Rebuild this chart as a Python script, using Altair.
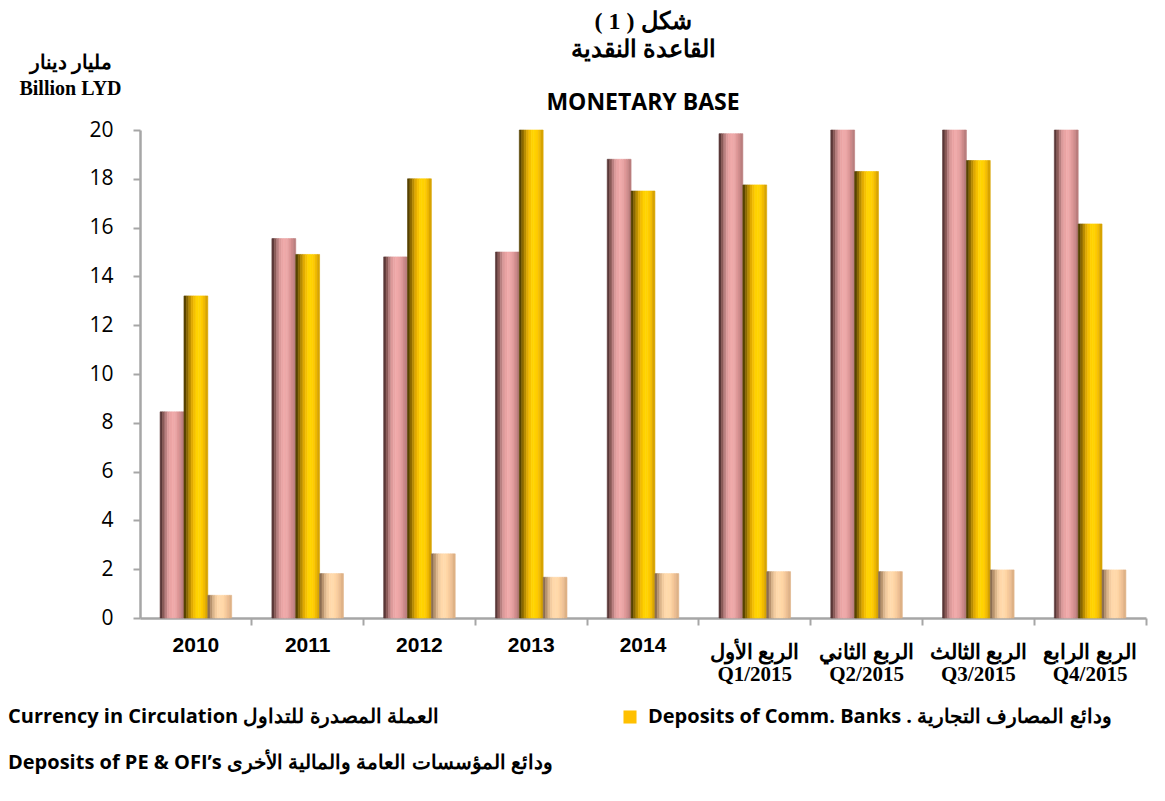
import altair as alt
import pandas as pd

categories = ["2010", "2011", "2012", "2013", "2014",
              "الربع الأول|Q1/2015", "الربع الثاني|Q2/2015",
              "الربع الثالث|Q3/2015", "الربع الرابع|Q4/2015"]
series = ["cur", "dep", "pe"]
series_labels = ["Currency in Circulation العملة المصدرة للتداول",
                 "Deposits of Comm. Banks . ودائع المصارف التجارية",
                 "Deposits of PE & OFI’s  ودائع المؤسسات العامة والمالية الأخرى"]
currency = [8.45, 15.55, 14.8, 15.0, 18.8, 19.85, 20.6, 21.6, 22.9]
deposits = [13.2, 14.9, 18.0, 20.4, 17.5, 17.75, 18.3, 18.75, 16.15]
pe_ofi = [0.93, 1.82, 2.63, 1.67, 1.82, 1.9, 1.9, 1.97, 1.97]
y_ticks = [0, 2, 4, 6, 8, 10, 12, 14, 16, 18, 20]

# shading strips across each bar (left dark -> light -> right slightly darker)
shades = {
    "cur": ["#5a3838", "#8a5a58", "#b98080", "#dc9a9a", "#eaa4a4", "#f0aaaa", "#eba6a6", "#e09a9a", "#d08c8c", "#bb7e7e"],
    "dep": ["#574300", "#8a6800", "#b88c00", "#e0aa00", "#f5c000", "#ffd200", "#ffd400", "#ffcc00", "#f2bc00", "#d8a400"],
    "pe":  ["#8c6e52", "#b8946e", "#dcb68c", "#f4cca0", "#ffd8aa", "#ffdaac", "#ffd6a6", "#f8cc9c", "#eec094", "#dfb286"],
}
n_strips = 10
legend_colors = ["#e6a0a0", "#ffc000", "#ffcc99"]

rows = []
for i, c in enumerate(categories):
    for s, vals in zip(series, [currency, deposits, pe_ofi]):
        for k in range(n_strips):
            rows.append({"category": c, "series": s, "strip": f"{s}{k:02d}", "value": vals[i]})
df = pd.DataFrame(rows)

strip_domain = [f"{s}{k:02d}" for s in series for k in range(n_strips)]
strip_colors = [col for s in series for col in shades[s]]

label_map = "{" + ", ".join(f"'{s}': '{l}'" for s, l in zip(series, series_labels)) + "}"
legend_label_expr = label_map + "[datum.value]"

AX = "#a6a6a6"
x_enc = alt.X("category:N",
              scale=alt.Scale(domain=categories, paddingInner=0.36, paddingOuter=0.18),
              axis=alt.Axis(title=None, labelAngle=0,
                            labelExpr="split(datum.label, '|')",
                            labelFont={"condition": {"test": "length(datum.value) <= 4", "value": "Liberation Sans"},
                                       "value": "Liberation Serif"},
                            labelPadding={"condition": {"test": "length(datum.value) <= 4", "value": 9},
                                          "value": 16},
                            labelFontSize=21, labelFontWeight="bold", labelColor="black",
                            labelLineHeight=22, labelBaseline="top",
                            tickSize=7, tickColor=AX, tickWidth=2,
                            bandPosition=1.28125,
                            domainColor=AX, domainWidth=2.5, grid=False))
xo_enc = alt.XOffset("strip:N",
                     scale=alt.Scale(domain=strip_domain, paddingInner=0, paddingOuter=0))
y_enc = alt.Y("value:Q",
              scale=alt.Scale(domain=[0, 20], clamp=True, nice=False),
              axis=alt.Axis(values=y_ticks, grid=False,
                            title=["مليار دينار", "Billion LYD"], titleAngle=0,
                            titleX=-70, titleY=-78, titleAlign="center", titleBaseline="top",
                            titleFont="Liberation Serif", titleFontSize=20, titleFontWeight="bold",
                            titleColor="black", titleLineHeight=26,
                            labelFont="Open Sans", labelFontSize=21, labelColor="black",
                            labelPadding=20, tickSize=7, tickColor=AX, tickWidth=2,
                            domainColor=AX, domainWidth=2.5))

base = alt.Chart(df)
bars = base.mark_bar(strokeWidth=0.6).encode(
    x=x_enc, xOffset=xo_enc, y=y_enc,
    color=alt.Color("strip:N", scale=alt.Scale(domain=strip_domain, range=strip_colors), legend=None),
    stroke=alt.Stroke("strip:N", scale=alt.Scale(domain=strip_domain, range=strip_colors), legend=None),
)

legend_common = dict(orient="none", title=None, symbolType="square", symbolSize=170,
                     symbolStrokeWidth=0, symbolOpacity=1, labelFont="Open Sans",
                     labelFontSize=20, labelFontWeight="bold", labelColor="black",
                     labelLimit=800, labelOffset=8, rowPadding=26,
                     labelExpr=legend_label_expr)

# legend-only layers: their points sit outside the clipped plot area
leg_a = base.transform_filter("datum.series != 'dep'").mark_point(filled=True, clip=True, size=170).encode(
    x=alt.value(0), y=alt.value(-60),
    shape=alt.Shape("series:N", scale=alt.Scale(domain=["cur", "pe"], range=["square", "square"]),
                    legend=alt.Legend(legendX=-160, legendY=577, symbolFillColor=legend_colors[0], **legend_common)))
leg_b = base.transform_filter("datum.series == 'dep'").mark_point(filled=True, clip=True, size=170,
                                                                  shape="square").encode(
    x=alt.value(0), y=alt.value(-60),
    fill=alt.Fill("series:N", scale=alt.Scale(domain=["dep"], range=[legend_colors[1]]),
                  legend=alt.Legend(legendX=480, legendY=577, **legend_common)))

chart = alt.layer(bars, leg_a, leg_b).resolve_scale(shape="independent", fill="independent",
                                                    color="independent").properties(
    width=1006, height=488,
    autosize=alt.AutoSizeParams(type="none"),
    padding={"left": 132, "top": 122, "right": 8, "bottom": 168},
    title=alt.TitleParams(
        text=["( 1 ) شكل", "القاعدة النقدية"],
        subtitle="MONETARY BASE",
        font="Liberation Serif", fontSize=24, fontWeight="bold", color="black", lineHeight=28,
        subtitleFont="Open Sans", subtitleFontSize=23, subtitleFontWeight="bold",
        subtitleColor="black", subtitlePadding=30,
        anchor="middle", frame="group", offset=14, dy=77),
).configure_view(stroke=None)

chart.save("out.html", embed_options={"renderer": "svg", "actions": False})
